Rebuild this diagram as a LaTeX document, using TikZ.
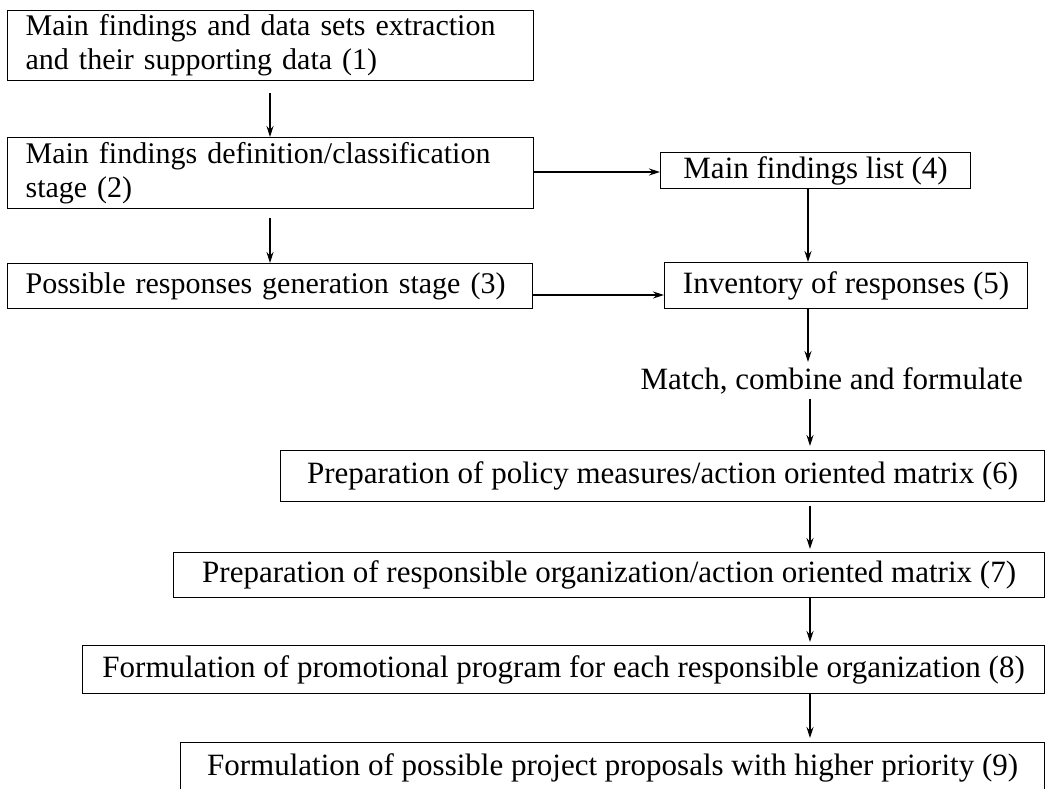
\documentclass[tikz,border=0pt]{standalone}
\usepackage{fontspec}
\setmainfont{Liberation Serif}
\usetikzlibrary{arrows.meta}
\begin{document}
\begin{tikzpicture}[x=1pt,y=-1pt,
  every node/.style={font=\fontsize{31}{34}\selectfont},
  box/.style={draw, line width=1.2pt, inner sep=0pt, anchor=north west},
  lbox/.style={box, align=left, inner xsep=18pt, font=\fontsize{30}{34}\selectfont},
  arr/.style={-{Stealth[length=11pt,width=7pt]}, line width=1.3pt}]
\useasboundingbox (0,0) rectangle (1047,788);
\clip (0,0) rectangle (1047,788);
% left column
\node[lbox, minimum width=526pt, minimum height=70pt, text width=490pt] (b1) at (7,10)
  {Main findings and data sets extraction\\and their supporting data (1)};
\node[lbox, minimum width=526pt, minimum height=71pt, text width=490pt] (b2) at (7,137)
  {Main findings definition/classification\\stage (2)};
\node[lbox, minimum width=525pt, minimum height=45pt, text width=489pt] (b3) at (7,263)
  {Possible responses generation stage (3)};
% right column
\node[box, minimum width=310pt, minimum height=36pt] (b4) at (660,152)
  {Main findings list (4)};
\node[box, minimum width=363pt, minimum height=46pt] (b5) at (664,262)
  {Inventory of responses (5)};
\node[anchor=east, inner sep=0pt] (lbl) at (1023,381) {Match, combine and formulate};
% bottom boxes
\node[box, minimum width=764pt, minimum height=51pt] (b6) at (280,450)
  {Preparation of policy measures/action oriented matrix (6)};
\node[box, minimum width=871pt, minimum height=45pt] (b7) at (173,552)
  {Preparation of responsible organization/action oriented matrix (7)};
\node[box, minimum width=962pt, minimum height=48pt] (b8) at (82,645)
  {Formulation of promotional program for each responsible organization (8)};
\node[box, minimum width=864pt, minimum height=50pt] (b9) at (180,742)
  {Formulation of possible project proposals with higher priority (9)};
% connectors
\coordinate (cl) at (270,0);
\coordinate (cr) at (808,0);
\coordinate (cb) at (810,0);
\draw[arr, shorten <=12pt] (b1.south -| cl) -- (b2.north -| cl);
\draw[arr, shorten <=9pt] (b2.south -| cl) -- (b3.north -| cl);
\draw[arr] (b2.east |- 0,172) -- (b4.west |- 0,172);
\draw[arr] (b3.east |- 0,295) -- (b5.west |- 0,295);
\draw[arr] (b4.south -| cr) -- (b5.north -| cr);
\draw[arr] (b5.south -| cr) -- (808,362);
\draw[arr, shorten <=4pt, shorten >=4pt] (lbl.south -| cb) -- (b6.north -| cb);
\draw[arr, shorten <=4pt, shorten >=3pt] (b6.south -| cb) -- (b7.north -| cb);
\draw[arr, shorten >=3pt] (b7.south -| cb) -- (b8.north -| cb);
\draw[arr, shorten >=4pt] (b8.south -| cb) -- (b9.north -| cb);
\end{tikzpicture}
\end{document}
